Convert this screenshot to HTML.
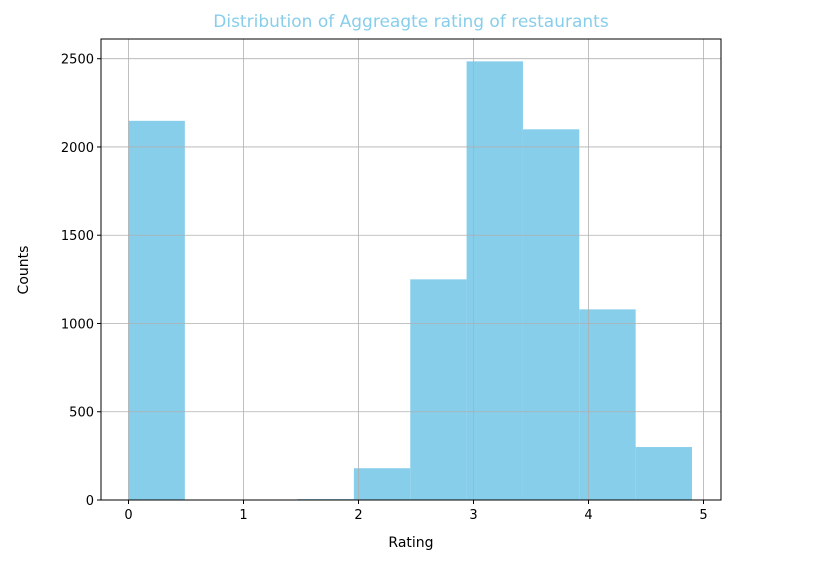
<!DOCTYPE html>
<html><head><meta charset="utf-8"><style>
body{margin:0;background:#fff;}
svg text{font-family:"DejaVu Sans","Liberation Sans",sans-serif;}
</style></head><body>
<svg id="chart" width="814" height="569"></svg>
<script>
const binEdgesStart = 0;
const binWidth = 0.49;
const counts = [2148, 0, 0, 5, 180, 1250, 2485, 2100, 1080, 300];
const xTicks = [0, 1, 2, 3, 4, 5];
const yTicks = [0, 500, 1000, 1500, 2000, 2500];
const NS = "http://www.w3.org/2000/svg";
const svg = document.getElementById('chart');
const L = 101, R = 721, T = 39, B = 500;
const xs = v => 128.5 + v * 115.0;
const ys = v => 500 - v * 0.17652;
function mk(tag, attrs, parent) {
  const e = document.createElementNS(NS, tag);
  for (const k in attrs) e.setAttribute(k, attrs[k]);
  (parent || svg).appendChild(e);
  return e;
}
const bars = mk('g', {});


counts.forEach((c, i) => {
  const x0 = xs(binEdgesStart + i * binWidth), x1 = xs(binEdgesStart + (i + 1) * binWidth);
  const r = mk('rect', {x: x0, y: ys(c), width: x1 - x0, height: ys(0) - ys(c), fill: '#87ceeb'}, bars);
  
  
});
const grid = mk('g', {stroke: '#b0b0b0', 'stroke-width': 0.8});


xTicks.forEach(t => { mk('line', {x1: xs(t), x2: xs(t), y1: T, y2: B}, grid); });
yTicks.forEach(t => { mk('line', {x1: L, x2: R, y1: ys(t), y2: ys(t)}, grid); });
const frame = mk('rect', {x: L, y: T, width: R - L, height: B - T, fill: 'none', stroke: '#000', 'stroke-width': 1});


xTicks.forEach(t => {
  mk('line', {x1: xs(t), x2: xs(t), y1: B, y2: B + 4, stroke: '#000'});
  const tx = mk('text', {x: xs(t), y: B + 19, 'text-anchor': 'middle', 'font-size': 13, fill: '#000'});
  tx.textContent = t;
  
  
});
yTicks.forEach(t => {
  mk('line', {x1: L - 4, x2: L, y1: ys(t), y2: ys(t), stroke: '#000'});
  const tx = mk('text', {x: L - 7, y: ys(t) + 5, 'text-anchor': 'end', 'font-size': 13, fill: '#000'});
  tx.textContent = t;
  
  
});
const xl = mk('text', {x: 411, y: 547, 'text-anchor': 'middle', 'font-size': 14, fill: '#000'});
xl.textContent = 'Rating';


const yl = mk('text', {x: 28, y: 270, 'text-anchor': 'middle', 'font-size': 14, fill: '#000', transform: 'rotate(-90 28 270)'});
yl.textContent = 'Counts';


const ti = mk('text', {x: 411, y: 27, 'text-anchor': 'middle', 'font-size': 17, fill: '#87ceeb'});
ti.textContent = 'Distribution of Aggreagte rating of restaurants';


</script>
</body></html>
